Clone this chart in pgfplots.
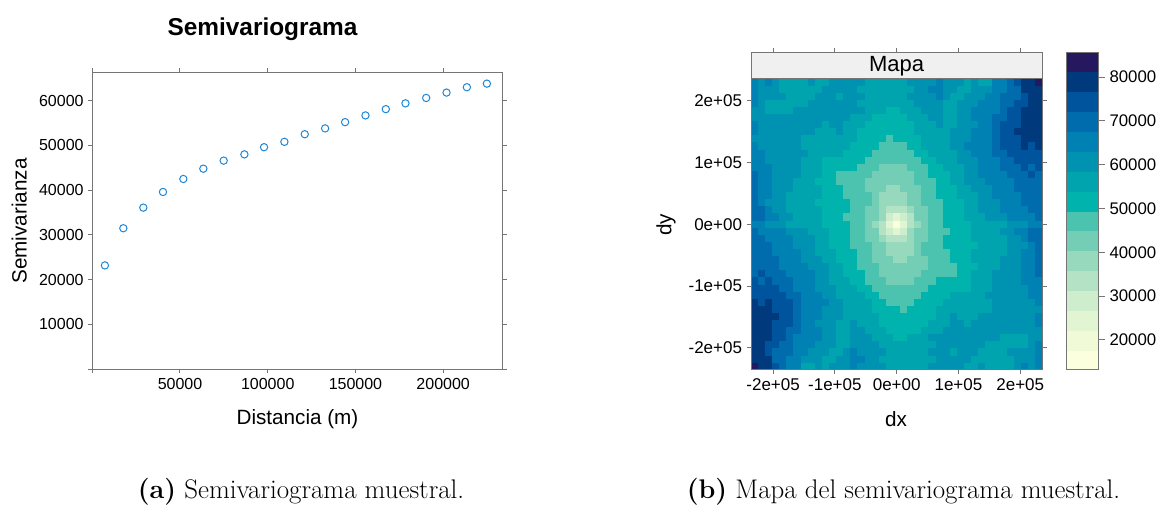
\documentclass[border=0pt]{standalone}
\usepackage{fontspec}
\usepackage{pgfplots}
\usepackage{pgfplotstable}
\pgfplotsset{compat=1.18}
\newfontfamily\arial{Liberation Sans}
\definecolor{axisgray}{HTML}{757575}
\definecolor{stripgray}{HTML}{F0F0F0}
\definecolor{ptblue}{HTML}{1E86D6}

% semivariogram map: 41 x 41 cells of 11500 m, rows from dy=+230000 (top) to dy=-230000,
% columns from dx=-230000 to dx=+230000
\pgfplotstableread[header=false]{
65200 60700 65200 60700 56200 56200 56200 56200 60700 56200 56200 60700 60700 60700 60700 60700 56200 56200 56200 56200 56200 56200 60700 60700 60700 60700 65200 60700 60700 60700 56200 60700 56200 56200 65200 65200 69800 74300 78800 78800 83400
65200 60700 60700 60700 56200 56200 56200 56200 56200 56200 60700 60700 60700 60700 60700 56200 56200 56200 56200 56200 56200 56200 56200 60700 60700 65200 65200 60700 60700 56200 56200 60700 60700 60700 65200 65200 69800 69800 78800 78800 78800
65200 60700 60700 60700 60700 56200 56200 56200 56200 60700 60700 60700 56200 60700 60700 60700 56200 56200 56200 56200 56200 56200 60700 60700 60700 60700 65200 60700 56200 56200 60700 60700 60700 65200 65200 69800 69800 69800 74300 78800 78800
65200 60700 56200 56200 56200 56200 56200 56200 60700 60700 60700 60700 60700 60700 60700 56200 56200 56200 56200 56200 56200 56200 56200 60700 60700 60700 60700 56200 56200 60700 60700 60700 65200 65200 65200 69800 69800 74300 74300 78800 78800
60700 60700 56200 56200 56200 56200 60700 60700 60700 60700 60700 60700 60700 60700 60700 60700 56200 56200 56200 51600 51600 56200 56200 56200 60700 60700 60700 56200 56200 60700 60700 65200 65200 65200 65200 69800 74300 74300 78800 78800 78800
60700 60700 60700 60700 60700 60700 60700 60700 60700 60700 60700 60700 60700 60700 56200 56200 56200 51600 51600 51600 51600 51600 56200 56200 56200 60700 60700 56200 56200 60700 60700 65200 65200 65200 69800 69800 74300 74300 78800 78800 78800
65200 60700 60700 60700 60700 60700 60700 60700 60700 60700 56200 60700 60700 56200 56200 56200 51600 51600 51600 51600 51600 51600 51600 56200 56200 56200 60700 56200 56200 60700 60700 60700 65200 65200 69800 74300 74300 74300 78800 78800 78800
65200 60700 60700 60700 60700 60700 60700 60700 60700 56200 56200 56200 60700 56200 56200 51600 51600 51600 51600 51600 51600 51600 51600 56200 56200 56200 56200 56200 60700 60700 60700 65200 65200 65200 69800 74300 74300 78800 78800 78800 78800
60700 60700 60700 60700 60700 60700 60700 56200 56200 56200 56200 56200 56200 56200 56200 51600 51600 51600 51600 47100 51600 51600 51600 51600 56200 56200 56200 56200 60700 60700 60700 65200 65200 65200 69800 74300 74300 74300 78800 78800 78800
65200 60700 60700 60700 60700 60700 60700 56200 56200 56200 56200 56200 56200 56200 51600 51600 51600 51600 47100 47100 47100 47100 51600 51600 56200 56200 56200 56200 60700 60700 65200 65200 65200 65200 69800 74300 74300 74300 78800 74300 78800
65200 65200 60700 60700 60700 60700 60700 60700 56200 56200 56200 56200 56200 51600 51600 51600 51600 47100 47100 47100 47100 47100 47100 51600 51600 56200 56200 56200 56200 60700 60700 65200 65200 65200 69800 69800 74300 74300 74300 74300 74300
65200 65200 60700 60700 60700 60700 60700 56200 56200 56200 51600 51600 51600 51600 51600 51600 47100 47100 47100 47100 47100 47100 47100 47100 51600 51600 56200 56200 56200 60700 60700 60700 65200 65200 65200 69800 69800 74300 74300 74300 74300
65200 65200 65200 60700 60700 60700 60700 56200 56200 56200 51600 51600 51600 51600 51600 47100 47100 47100 42600 42600 42600 42600 47100 47100 47100 51600 51600 56200 56200 56200 60700 60700 65200 65200 65200 69800 69800 69800 74300 69800 74300
69800 65200 65200 60700 60700 60700 60700 56200 56200 56200 51600 51600 47100 47100 47100 47100 47100 42600 42600 42600 42600 42600 42600 47100 47100 51600 51600 51600 56200 56200 60700 60700 65200 65200 65200 65200 69800 69800 69800 74300 69800
69800 65200 65200 60700 60700 60700 56200 56200 56200 51600 51600 51600 47100 47100 47100 47100 42600 42600 42600 42600 42600 42600 42600 47100 47100 47100 51600 51600 56200 56200 60700 60700 60700 65200 65200 65200 65200 69800 69800 69800 69800
69800 65200 65200 60700 60700 60700 56200 56200 56200 56200 51600 51600 51600 47100 47100 47100 42600 42600 42600 38100 38100 42600 42600 42600 47100 47100 51600 51600 51600 56200 56200 60700 60700 60700 65200 65200 65200 69800 69800 69800 69800
69800 65200 65200 60700 60700 56200 56200 56200 56200 56200 51600 51600 51600 47100 47100 47100 47100 42600 38100 38100 38100 38100 42600 42600 47100 47100 51600 51600 51600 56200 56200 56200 60700 60700 65200 65200 65200 65200 69800 69800 69800
69800 65200 60700 60700 60700 56200 56200 56200 56200 51600 51600 51600 51600 51600 47100 47100 47100 42600 38100 38100 38100 38100 42600 42600 47100 47100 47100 51600 51600 51600 56200 56200 60700 60700 60700 65200 65200 65200 69800 69800 69800
69800 69800 65200 60700 60700 56200 56200 56200 56200 56200 51600 51600 51600 51600 47100 47100 42600 42600 38100 33500 33500 33500 38100 42600 42600 47100 47100 51600 51600 51600 56200 56200 60700 60700 60700 65200 65200 65200 65200 69800 69800
69800 69800 65200 65200 60700 60700 56200 56200 56200 56200 51600 51600 51600 47100 47100 47100 42600 42600 38100 29000 24500 29000 33500 42600 42600 47100 47100 51600 51600 51600 56200 56200 56200 60700 60700 60700 65200 65200 65200 65200 69800
65200 65200 60700 60700 60700 56200 56200 56200 56200 56200 51600 51600 51600 51600 47100 47100 42600 38100 33500 24500 15400 24500 33500 38100 42600 47100 47100 51600 51600 51600 51600 56200 56200 56200 56200 56200 60700 60700 60700 65200 65200
69800 65200 65200 65200 65200 60700 60700 60700 56200 56200 56200 51600 51600 51600 47100 47100 42600 42600 33500 29000 24500 29000 38100 42600 42600 47100 47100 47100 51600 51600 51600 56200 56200 56200 56200 60700 60700 65200 65200 69800 69800
69800 69800 65200 65200 65200 65200 60700 60700 60700 56200 56200 51600 51600 51600 47100 47100 42600 42600 38100 33500 33500 33500 38100 42600 42600 47100 47100 51600 51600 51600 51600 56200 56200 56200 56200 56200 60700 60700 65200 69800 69800
69800 69800 69800 65200 65200 65200 60700 60700 60700 56200 56200 51600 51600 51600 47100 47100 47100 42600 42600 38100 38100 38100 38100 42600 47100 47100 47100 51600 51600 51600 51600 51600 56200 56200 56200 56200 60700 60700 60700 65200 69800
69800 69800 69800 65200 65200 65200 65200 60700 60700 56200 56200 56200 51600 51600 51600 47100 47100 42600 42600 38100 38100 38100 38100 42600 47100 47100 47100 47100 51600 51600 51600 56200 56200 56200 56200 56200 60700 60700 65200 65200 69800
69800 69800 69800 69800 65200 65200 65200 60700 60700 60700 56200 56200 51600 51600 51600 47100 47100 42600 42600 42600 38100 38100 42600 42600 42600 47100 47100 47100 51600 51600 51600 56200 56200 56200 56200 60700 60700 60700 65200 65200 69800
69800 69800 69800 69800 65200 65200 65200 65200 60700 60700 60700 56200 56200 51600 51600 47100 47100 47100 42600 42600 42600 42600 42600 42600 42600 47100 47100 47100 47100 51600 51600 51600 56200 56200 56200 60700 60700 60700 65200 65200 69800
69800 74300 69800 69800 69800 65200 65200 65200 65200 60700 60700 56200 56200 51600 51600 51600 47100 47100 42600 42600 42600 42600 42600 42600 47100 47100 47100 47100 47100 51600 51600 56200 56200 56200 60700 60700 60700 60700 65200 65200 69800
74300 69800 74300 69800 69800 69800 65200 65200 65200 60700 60700 56200 56200 56200 51600 51600 47100 47100 47100 42600 42600 42600 42600 47100 47100 47100 51600 51600 51600 51600 51600 56200 56200 56200 60700 60700 60700 60700 65200 65200 65200
74300 74300 74300 74300 69800 69800 65200 65200 65200 60700 60700 60700 56200 56200 56200 51600 51600 47100 47100 47100 47100 47100 47100 47100 47100 51600 51600 51600 51600 51600 51600 56200 56200 56200 60700 60700 60700 60700 60700 65200 65200
74300 74300 74300 74300 74300 69800 69800 65200 65200 65200 60700 60700 56200 56200 56200 56200 51600 51600 47100 47100 47100 47100 47100 47100 51600 51600 51600 51600 56200 56200 56200 56200 56200 60700 60700 60700 60700 60700 60700 65200 65200
78800 74300 78800 74300 74300 74300 69800 65200 65200 65200 65200 60700 60700 56200 56200 56200 56200 51600 51600 47100 47100 47100 47100 51600 51600 51600 51600 56200 56200 56200 56200 56200 56200 56200 60700 60700 60700 60700 60700 60700 65200
78800 78800 78800 74300 74300 74300 69800 65200 65200 65200 60700 60700 60700 56200 56200 56200 56200 51600 51600 51600 51600 47100 51600 51600 51600 51600 56200 56200 56200 56200 56200 56200 56200 56200 60700 60700 60700 60700 60700 60700 60700
78800 78800 78800 78800 74300 74300 69800 65200 65200 65200 60700 60700 60700 56200 56200 56200 56200 56200 51600 51600 51600 51600 51600 51600 51600 51600 56200 56200 60700 56200 56200 56200 60700 60700 60700 60700 60700 60700 60700 60700 65200
78800 78800 78800 74300 74300 74300 69800 65200 65200 60700 60700 60700 56200 56200 60700 56200 56200 56200 51600 51600 51600 51600 51600 51600 51600 56200 56200 56200 60700 60700 56200 60700 60700 60700 60700 60700 60700 60700 60700 60700 65200
78800 78800 78800 74300 74300 69800 69800 65200 65200 65200 60700 60700 56200 56200 60700 60700 56200 56200 56200 51600 51600 51600 51600 51600 56200 56200 56200 60700 60700 60700 60700 60700 60700 60700 60700 60700 60700 60700 60700 60700 60700
78800 78800 78800 74300 74300 69800 65200 65200 65200 65200 60700 60700 56200 56200 60700 60700 60700 56200 56200 56200 51600 51600 56200 56200 56200 60700 60700 60700 60700 60700 60700 60700 60700 60700 60700 56200 56200 56200 56200 60700 60700
78800 78800 74300 74300 69800 69800 65200 65200 65200 60700 60700 60700 56200 56200 60700 60700 60700 60700 56200 56200 56200 56200 56200 56200 56200 56200 60700 60700 60700 60700 60700 60700 60700 56200 56200 56200 56200 56200 56200 60700 65200
78800 78800 74300 69800 69800 69800 65200 65200 60700 60700 60700 56200 56200 60700 65200 60700 60700 60700 60700 56200 56200 56200 56200 56200 56200 60700 60700 60700 56200 60700 60700 60700 56200 56200 56200 56200 60700 60700 60700 60700 65200
78800 78800 78800 69800 69800 65200 65200 60700 60700 60700 56200 56200 60700 60700 65200 65200 60700 60700 56200 56200 56200 56200 56200 56200 56200 56200 60700 60700 60700 60700 60700 56200 56200 56200 56200 56200 56200 60700 60700 60700 65200
83400 78800 78800 74300 69800 65200 65200 56200 56200 60700 56200 60700 60700 60700 65200 60700 60700 60700 60700 56200 56200 56200 56200 56200 56200 60700 60700 60700 60700 60700 56200 56200 60700 56200 56200 56200 56200 60700 65200 60700 65200
}\semimap

\begin{document}
\begin{tikzpicture}
\useasboundingbox (0,0) rectangle (874.5pt,378.75pt);

% ---------------- sample semivariogram ----------------
\begin{axis}[
  at={(69.2pt,101.8pt)}, anchor=south west,
  scale only axis, width=307.8pt, height=222.75pt,
  xmin=0, xmax=233900, ymin=0, ymax=66340,
  scaled ticks=false,
  axis line style={draw=axisgray, line width=0.75pt},
  tick style={draw=axisgray, line width=0.75pt},
  major tick length=3pt, tick align=outside,
  xtick pos=both, ytick pos=both,
  xtick={0,50000,100000,150000,200000},
  xticklabels={,50000,100000,150000,200000},
  ytick={0,10000,20000,30000,40000,50000,60000},
  yticklabels={,10000,20000,30000,40000,50000,60000},
  tick label style={font=\arial\fontsize{12}{14}\selectfont, text=black},
  clip=false,
]
\addplot[only marks, mark=o, mark size=2.75pt, draw=ptblue,
  mark options={line width=0.75pt}] coordinates {
  (7200,23200) (17700,31500) (29100,36100) (40300,39600) (51900,42500)
  (63300,44800) (74900,46600) (86700,48000) (97900,49600) (109500,50800)
  (121100,52500) (132700,53800) (144100,55200) (155700,56700) (167300,58100)
  (178500,59400) (190300,60600) (201900,61800) (213500,63000) (224900,63800)
};
\end{axis}

\node[font=\arial\bfseries\fontsize{18.3}{22}\selectfont, anchor=base] at (196.9pt,352pt) {Semivariograma};
\node[font=\arial\fontsize{15.5}{18}\selectfont, anchor=base] at (223.1pt,60pt) {Distancia (m)};
\node[font=\arial\fontsize{15.5}{18}\selectfont, anchor=base, rotate=90] at (20pt,213pt) {Semivarianza};

% ---------------- semivariogram map ----------------
\begin{axis}[
  at={(563.25pt,101.25pt)}, anchor=south west,
  scale only axis, width=218.5pt, height=238.2pt,
  xmin=-235750, xmax=235750, ymin=-235750, ymax=278320,
  scaled ticks=false,
  axis on top,
  axis line style={draw=axisgray, line width=0.75pt},
  tick style={draw=axisgray, line width=0.75pt},
  major tick length=3.2pt, tick align=outside,
  xtick pos=both, ytick pos=both,
  xtick={-200000,-100000,0,100000,200000},
  xticklabels={-2e+05,-1e+05,0e+00,1e+05,2e+05},
  ytick={-200000,-100000,0,100000,200000},
  yticklabels={-2e+05,-1e+05,0e+00,1e+05,2e+05},
  tick label style={font=\arial\fontsize{12.75}{15}\selectfont, text=black},
  clip marker paths=true,
  colormap={ylgnbu}{
    rgb255=(252,255,221) rgb255=(240,250,214) rgb255=(226,245,211) rgb255=(205,237,205)
    rgb255=(179,227,196) rgb255=(150,217,189) rgb255=(116,206,182) rgb255=(75,195,175)
    rgb255=(0,180,173)   rgb255=(0,164,175)   rgb255=(0,147,177)   rgb255=(0,129,179)
    rgb255=(0,108,174)   rgb255=(0,84,158)    rgb255=(0,58,125)    rgb255=(38,24,95)},
  colormap access=piecewise constant,
  point meta min=13135, point meta max=85631,
  colorbar,
  colorbar style={
    at={(parent axis.north east)}, anchor=north west, xshift=9.3pt,
    width=24.5pt,
    scaled y ticks=false,
    axis line style={draw=axisgray, line width=0.75pt},
    tick style={draw=axisgray, line width=0.75pt},
    major tick length=4.5pt, tick align=outside,
    ytick pos=right, yticklabel pos=right,
    ytick={20000,30000,40000,50000,60000,70000,80000},
    yticklabels={20000,30000,40000,50000,60000,70000,80000},
    yticklabel style={font=\arial\fontsize{12.6}{15}\selectfont, text=black},
  },
]
\pgfplotsinvokeforeach{0,...,40}{
  \addplot[scatter, only marks, mark=square*, mark size=2.665pt,
    point meta=explicit,
    scatter/use mapped color={draw=mapped color, fill=mapped color},
    mark options={line width=0.3pt}]
    table[x expr={(#1-20)*11500}, y expr={(20-\coordindex)*11500}, meta index=#1] {\semimap};
}
\fill[stripgray] (axis cs:-235750,235750) rectangle (axis cs:235750,278320);
\draw[axisgray, line width=0.75pt] (axis cs:-235750,235750) -- (axis cs:235750,235750);
\node[font=\arial\fontsize{16.5}{19}\selectfont, anchor=base] at (axis cs:0,246600) {Mapa};
\end{axis}

\node[font=\arial\fontsize{15.5}{18}\selectfont, anchor=base] at (672pt,58.7pt) {dx};
\node[font=\arial\fontsize{15.5}{18}\selectfont, anchor=base, rotate=90] at (503.6pt,210pt) {dy};

% ---------------- captions ----------------
\node[font=\fontsize{20.2}{24}\selectfont, anchor=base] at (225.75pt,4.5pt) {\textbf{(a)} Semivariograma muestral.};
\node[font=\fontsize{20.2}{24}\selectfont, anchor=base] at (677.6pt,4.5pt) {\textbf{(b)} Mapa del semivariograma muestral.};
\end{tikzpicture}
\end{document}
